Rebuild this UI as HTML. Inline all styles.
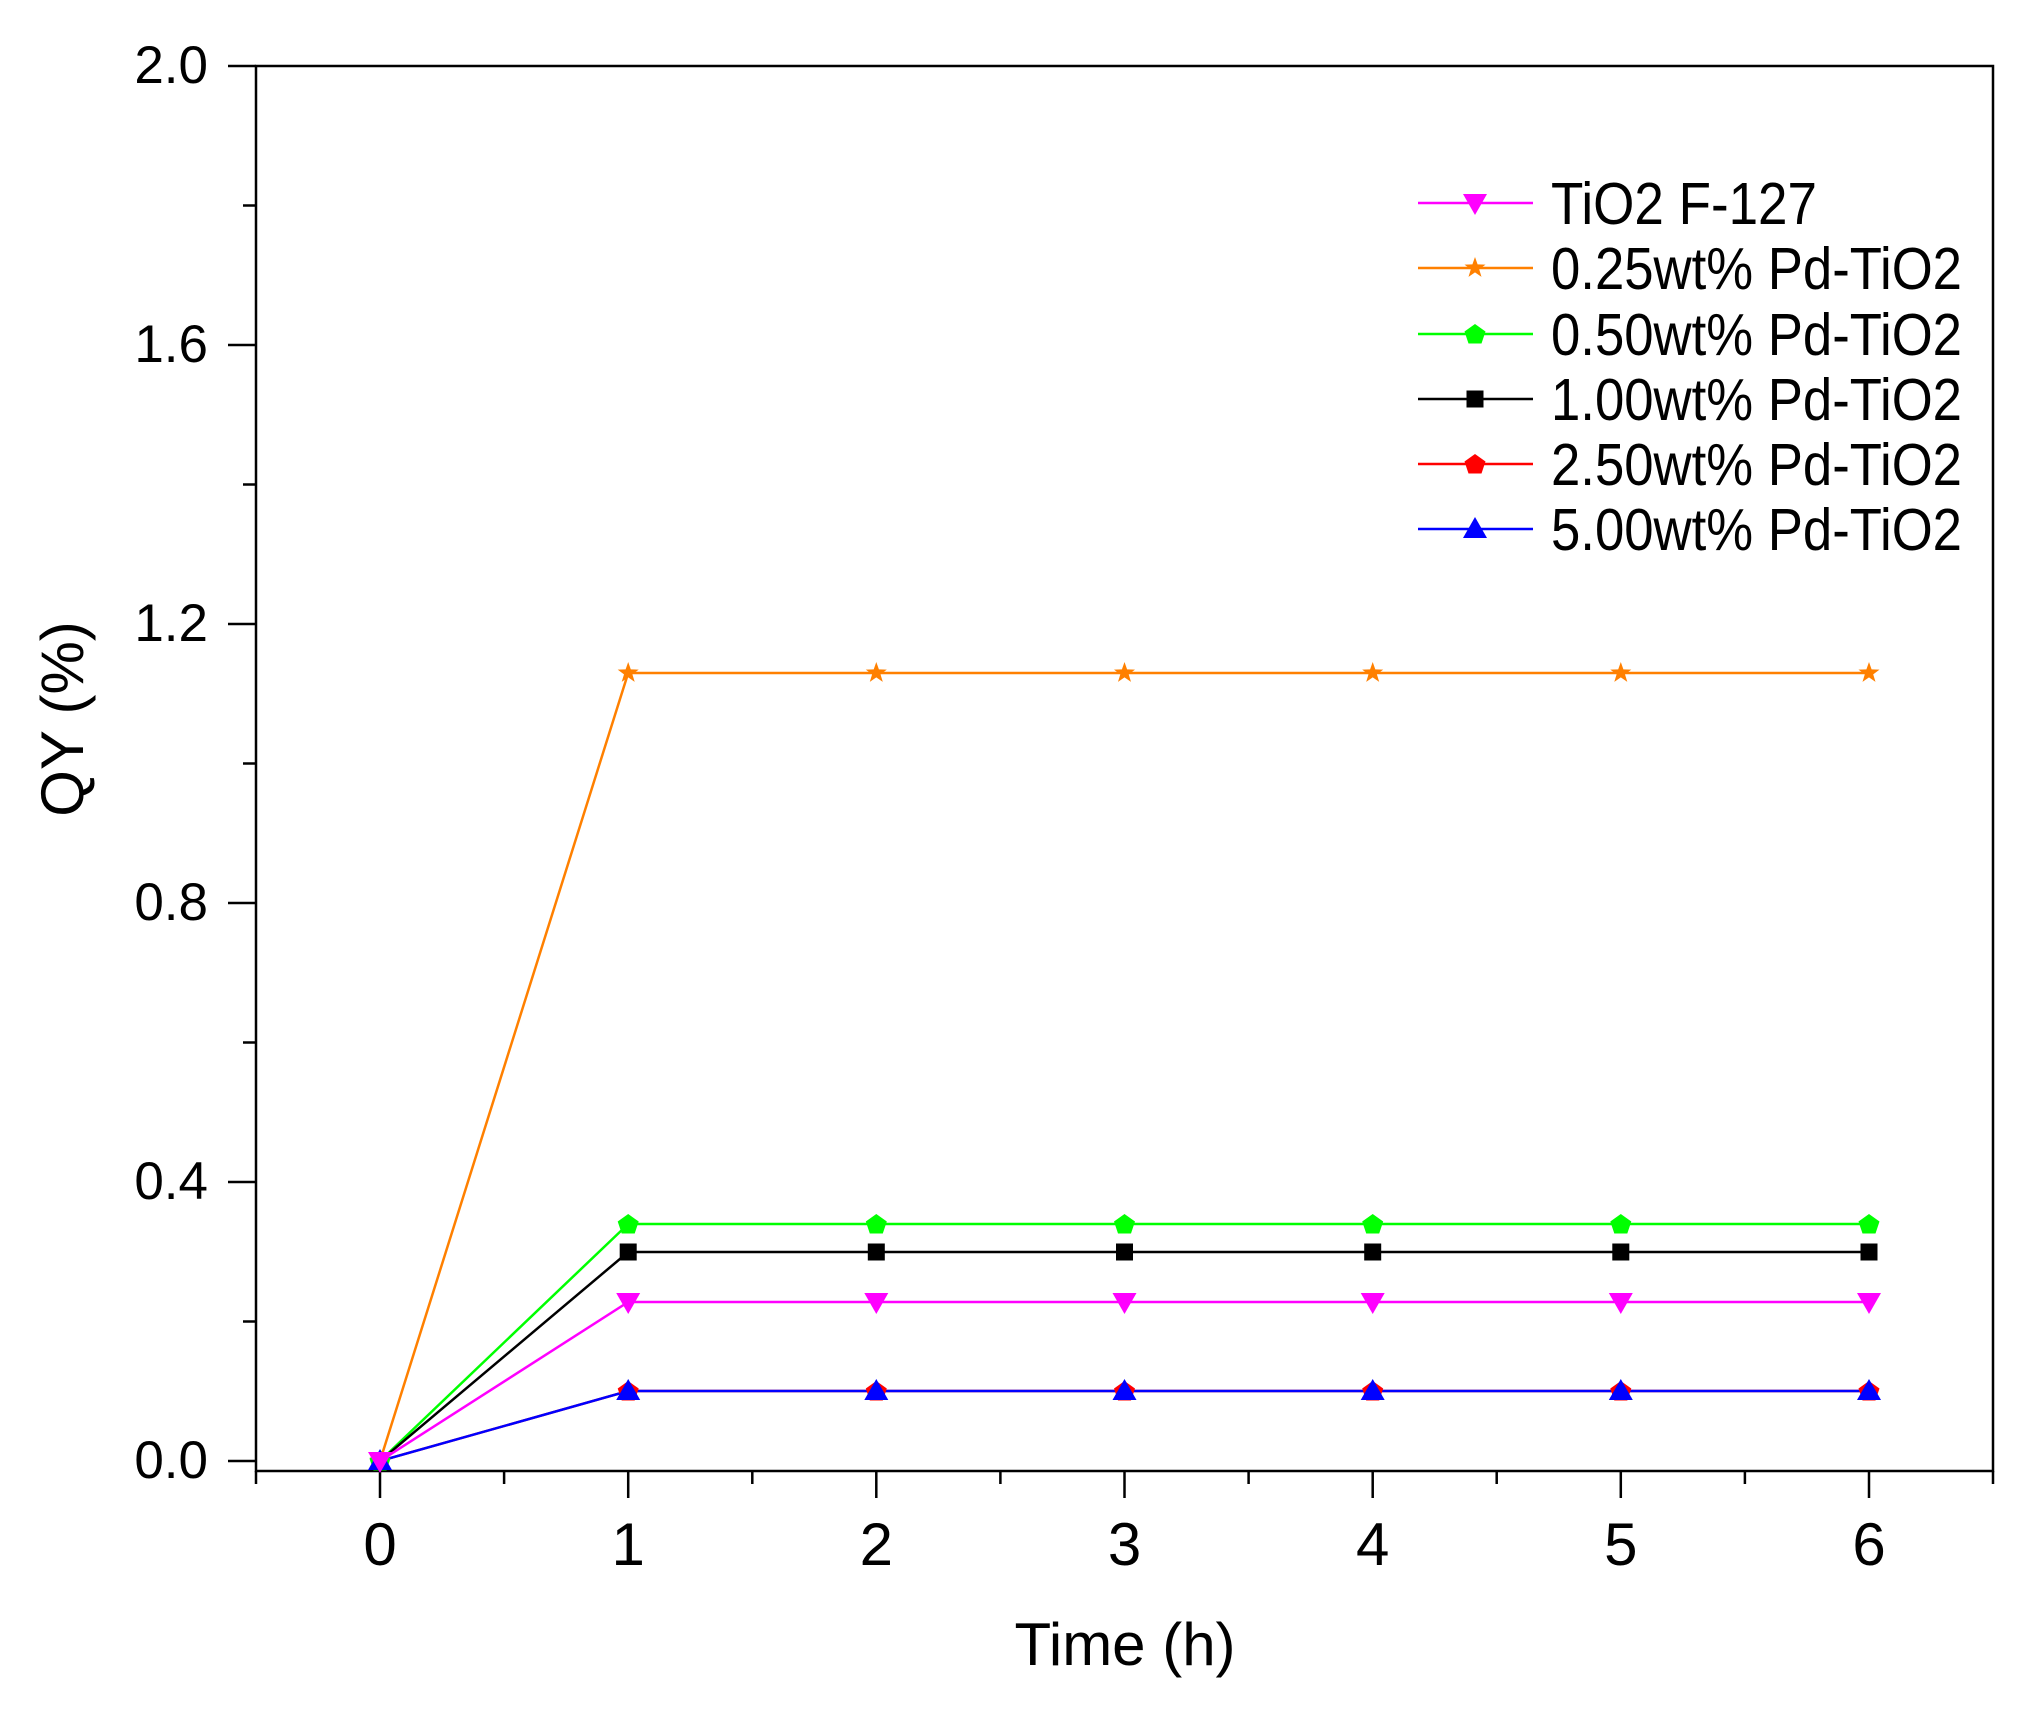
<!DOCTYPE html>
<html><head><meta charset="utf-8"><style>html,body{margin:0;padding:0;background:#fff}svg{display:block}</style></head>
<body>
<svg width="2044" height="1712" viewBox="0 0 2044 1712" xmlns="http://www.w3.org/2000/svg" font-family="Liberation Sans, Arial, sans-serif">
<defs>
<polygon id="tri" points="0,12 -12,-9 12,-9"/>
<polygon id="triu" points="0,-12 -12,9 12,9"/>
<polygon id="star" points="0,-11 2.6,-3.6 10.5,-3.4 4.2,1.4 6.5,8.9 0,4.4 -6.5,8.9 -4.2,1.4 -10.5,-3.4 -2.6,-3.6"/>
<polygon id="pent" points="0,-10 10.5,-2.5 6.5,9.5 -6.5,9.5 -10.5,-2.5"/>
<rect id="sq" x="-8.5" y="-8.5" width="17" height="17"/>
</defs>
<rect width="2044" height="1712" fill="#fff"/>
<g stroke="#000" stroke-width="2.5" fill="none">
<rect x="256" y="66" width="1737" height="1405"/>
<path d="M228 66H256M228 345H256M228 624H256M228 903H256M228 1182H256M228 1461H256"/>
<path d="M243 205.5H256M243 484.5H256M243 763.5H256M243 1042.5H256M243 1321.5H256"/>
<path d="M380 1471V1498M628.2 1471V1498M876.3 1471V1498M1124.5 1471V1498M1372.7 1471V1498M1620.8 1471V1498M1869 1471V1498"/>
<path d="M256 1471V1484M504.1 1471V1484M752.3 1471V1484M1000.4 1471V1484M1248.6 1471V1484M1496.7 1471V1484M1744.9 1471V1484M1993 1471V1484"/>
</g>
<g font-size="53" text-anchor="end" fill="#000">
<text x="208" y="83">2.0</text>
<text x="208" y="362">1.6</text>
<text x="208" y="641">1.2</text>
<text x="208" y="920">0.8</text>
<text x="208" y="1199">0.4</text>
<text x="208" y="1478">0.0</text>
</g>
<g font-size="60" text-anchor="middle" fill="#000">
<text x="380" y="1565">0</text>
<text x="628.2" y="1565">1</text>
<text x="876.3" y="1565">2</text>
<text x="1124.5" y="1565">3</text>
<text x="1372.7" y="1565">4</text>
<text x="1620.8" y="1565">5</text>
<text x="1869" y="1565">6</text>
<text x="1125" y="1665">Time (h)</text>
<text transform="translate(83,719) rotate(-90)">QY (%)</text>
</g>
<g fill="none" stroke-width="2.5">
<polyline stroke="#ff8000" points="380,1461 628.2,673 876.3,673 1124.5,673 1372.7,673 1620.8,673 1869,673"/>
<polyline stroke="#00ff00" points="380,1461 628.2,1224 876.3,1224 1124.5,1224 1372.7,1224 1620.8,1224 1869,1224"/>
<polyline stroke="#000" points="380,1461 628.2,1252 876.3,1252 1124.5,1252 1372.7,1252 1620.8,1252 1869,1252"/>
<polyline stroke="#ff0000" points="380,1461 628.2,1391 876.3,1391 1124.5,1391 1372.7,1391 1620.8,1391 1869,1391"/>
<polyline stroke="#0000ff" points="380,1461 628.2,1391 876.3,1391 1124.5,1391 1372.7,1391 1620.8,1391 1869,1391"/>
<polyline stroke="#ff00ff" points="380,1461 628.2,1302 876.3,1302 1124.5,1302 1372.7,1302 1620.8,1302 1869,1302"/>
</g>
<g fill="#ff8000"><use href="#star" x="380" y="1461"/><use href="#star" x="628.2" y="673"/><use href="#star" x="876.3" y="673"/><use href="#star" x="1124.5" y="673"/><use href="#star" x="1372.7" y="673"/><use href="#star" x="1620.8" y="673"/><use href="#star" x="1869" y="673"/></g>
<g fill="#000"><use href="#sq" x="380" y="1461"/><use href="#sq" x="628.2" y="1252"/><use href="#sq" x="876.3" y="1252"/><use href="#sq" x="1124.5" y="1252"/><use href="#sq" x="1372.7" y="1252"/><use href="#sq" x="1620.8" y="1252"/><use href="#sq" x="1869" y="1252"/></g>
<g fill="#00ff00"><use href="#pent" x="380" y="1461"/><use href="#pent" x="628.2" y="1224"/><use href="#pent" x="876.3" y="1224"/><use href="#pent" x="1124.5" y="1224"/><use href="#pent" x="1372.7" y="1224"/><use href="#pent" x="1620.8" y="1224"/><use href="#pent" x="1869" y="1224"/></g>
<g fill="#ff0000"><use href="#pent" x="628.2" y="1391"/><use href="#pent" x="876.3" y="1391"/><use href="#pent" x="1124.5" y="1391"/><use href="#pent" x="1372.7" y="1391"/><use href="#pent" x="1620.8" y="1391"/><use href="#pent" x="1869" y="1391"/></g>
<g fill="#0000ff"><use href="#triu" x="380" y="1461"/><use href="#triu" x="628.2" y="1391"/><use href="#triu" x="876.3" y="1391"/><use href="#triu" x="1124.5" y="1391"/><use href="#triu" x="1372.7" y="1391"/><use href="#triu" x="1620.8" y="1391"/><use href="#triu" x="1869" y="1391"/></g>
<g fill="#ff00ff"><use href="#tri" x="380" y="1461"/><use href="#tri" x="628.2" y="1302"/><use href="#tri" x="876.3" y="1302"/><use href="#tri" x="1124.5" y="1302"/><use href="#tri" x="1372.7" y="1302"/><use href="#tri" x="1620.8" y="1302"/><use href="#tri" x="1869" y="1302"/></g>
<g stroke-width="2.5">
<line x1="1418" x2="1533" y1="203" y2="203" stroke="#ff00ff"/>
<line x1="1418" x2="1533" y1="268" y2="268" stroke="#ff8000"/>
<line x1="1418" x2="1533" y1="334" y2="334" stroke="#00ff00"/>
<line x1="1418" x2="1533" y1="399" y2="399" stroke="#000"/>
<line x1="1418" x2="1533" y1="464" y2="464" stroke="#ff0000"/>
<line x1="1418" x2="1533" y1="529" y2="529" stroke="#0000ff"/>
</g>
<use href="#tri" x="1475" y="203" fill="#ff00ff"/>
<use href="#star" x="1475" y="268" fill="#ff8000"/>
<use href="#pent" x="1475" y="334" fill="#00ff00"/>
<use href="#sq" x="1475" y="399" fill="#000"/>
<use href="#pent" x="1475" y="464" fill="#ff0000"/>
<use href="#triu" x="1475" y="529" fill="#0000ff"/>
<g font-size="59" fill="#000">
<text x="1551" y="224" textLength="266" lengthAdjust="spacingAndGlyphs">TiO2 F-127</text>
<text x="1551" y="289" textLength="411" lengthAdjust="spacingAndGlyphs">0.25wt% Pd-TiO2</text>
<text x="1551" y="355" textLength="411" lengthAdjust="spacingAndGlyphs">0.50wt% Pd-TiO2</text>
<text x="1551" y="420" textLength="411" lengthAdjust="spacingAndGlyphs">1.00wt% Pd-TiO2</text>
<text x="1551" y="485" textLength="411" lengthAdjust="spacingAndGlyphs">2.50wt% Pd-TiO2</text>
<text x="1551" y="550" textLength="411" lengthAdjust="spacingAndGlyphs">5.00wt% Pd-TiO2</text>
</g>
</svg>
</body></html>
